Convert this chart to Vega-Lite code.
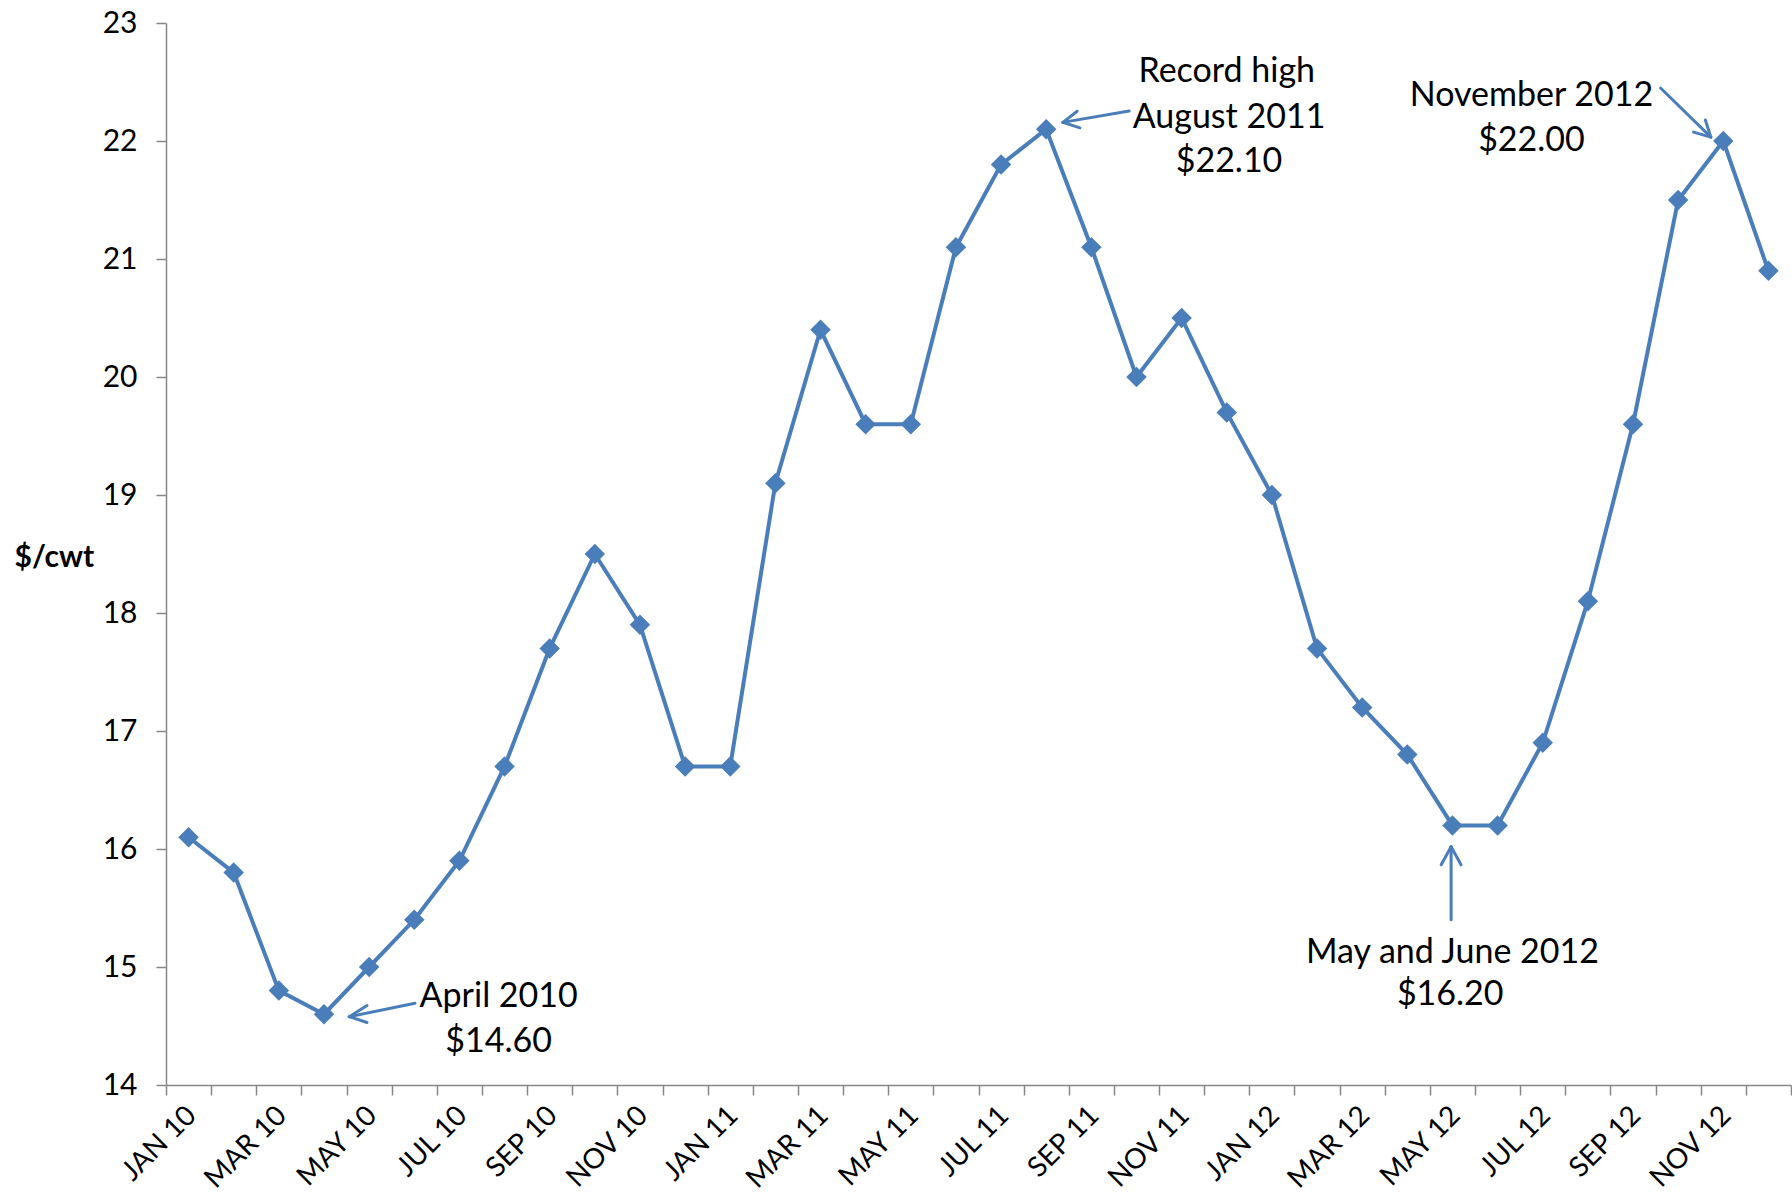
{
  "$schema": "https://vega.github.io/schema/vega-lite/v6.json",
  "width": 1625,
  "height": 1062,
  "autosize": {"type": "none"},
  "padding": {"left": 166, "top": 23, "right": 1, "bottom": 117},
  "background": "white",
  "config": {"view": {"stroke": null}, "font": "Lato"},
  "datasets": {
    "prices": [
      {"date": "2010-01-15", "price": 16.1},
      {"date": "2010-02-15", "price": 15.8},
      {"date": "2010-03-15", "price": 14.8},
      {"date": "2010-04-15", "price": 14.6},
      {"date": "2010-05-15", "price": 15.0},
      {"date": "2010-06-15", "price": 15.4},
      {"date": "2010-07-15", "price": 15.9},
      {"date": "2010-08-15", "price": 16.7},
      {"date": "2010-09-15", "price": 17.7},
      {"date": "2010-10-15", "price": 18.5},
      {"date": "2010-11-15", "price": 17.9},
      {"date": "2010-12-15", "price": 16.7},
      {"date": "2011-01-15", "price": 16.7},
      {"date": "2011-02-15", "price": 19.1},
      {"date": "2011-03-15", "price": 20.4},
      {"date": "2011-04-15", "price": 19.6},
      {"date": "2011-05-15", "price": 19.6},
      {"date": "2011-06-15", "price": 21.1},
      {"date": "2011-07-15", "price": 21.8},
      {"date": "2011-08-15", "price": 22.1},
      {"date": "2011-09-15", "price": 21.1},
      {"date": "2011-10-15", "price": 20.0},
      {"date": "2011-11-15", "price": 20.5},
      {"date": "2011-12-15", "price": 19.7},
      {"date": "2012-01-15", "price": 19.0},
      {"date": "2012-02-15", "price": 17.7},
      {"date": "2012-03-15", "price": 17.2},
      {"date": "2012-04-15", "price": 16.8},
      {"date": "2012-05-15", "price": 16.2},
      {"date": "2012-06-15", "price": 16.2},
      {"date": "2012-07-15", "price": 16.9},
      {"date": "2012-08-15", "price": 18.1},
      {"date": "2012-09-15", "price": 19.6},
      {"date": "2012-10-15", "price": 21.5},
      {"date": "2012-11-15", "price": 22.0},
      {"date": "2012-12-15", "price": 20.9}
    ],
    "arrows": [
      {"x": 5.016, "y": 14.692, "x2": 3.56, "y2": 14.579},
      {"x": 3.953, "y": 14.674, "x2": 3.56, "y2": 14.579},
      {"x": 3.953, "y": 14.53, "x2": 3.56, "y2": 14.579},
      {"x": 20.838, "y": 22.255, "x2": 19.369, "y2": 22.158},
      {"x": 19.748, "y": 22.111, "x2": 19.369, "y2": 22.158},
      {"x": 19.686, "y": 22.252, "x2": 19.369, "y2": 22.158},
      {"x": 32.61, "y": 22.449, "x2": 33.724, "y2": 22.033},
      {"x": 33.603, "y": 22.178, "x2": 33.724, "y2": 22.033},
      {"x": 33.341, "y": 22.075, "x2": 33.724, "y2": 22.033},
      {"x": 27.97, "y": 15.4, "x2": 27.97, "y2": 16.019},
      {"x": 27.75, "y": 15.867, "x2": 27.97, "y2": 16.019},
      {"x": 28.19, "y": 15.867, "x2": 27.97, "y2": 16.019}
    ],
    "notes": [
      {"label": "April 2010", "x": 6.87, "y": 14.746},
      {"label": "$14.60", "x": 6.87, "y": 14.364},
      {"label": "Record high", "x": 23.0, "y": 22.585},
      {"label": "August 2011", "x": 23.05, "y": 22.197},
      {"label": "$22.10", "x": 23.05, "y": 21.82},
      {"label": "November 2012", "x": 29.75, "y": 22.38},
      {"label": "$22.00", "x": 29.75, "y": 22.003},
      {"label": "May and June 2012", "x": 28.0, "y": 15.12},
      {"label": "$16.20", "x": 27.95, "y": 14.763}
    ]
  },
  "layer": [
    {
      "data": {"name": "prices"},
      "encoding": {
        "x": {
          "field": "date",
          "timeUnit": "yearmonth",
          "type": "ordinal",
          "scale": {"paddingInner": 0, "paddingOuter": 0},
          "axis": {
            "title": null,
            "labelExpr": "month(datum.value) % 2 == 0 ? upper(timeFormat(datum.value, '%b %y')) : ''",
            "labelAngle": -45,
            "labelAlign": "right",
            "labelBaseline": "middle",
            "labelFont": "Lato",
            "labelFontSize": 28,
            "labelColor": "black",
            "labelPadding": 16,
            "labelOffset": 3,
            "labelOverlap": false,
            "labelBound": false,
            "tickBand": "extent",
            "tickSize": 10,
            "tickColor": "#878787",
            "tickWidth": 1.5,
            "domainColor": "#878787",
            "domainWidth": 1.5,
            "grid": false
          }
        },
        "y": {
          "field": "price",
          "type": "quantitative",
          "scale": {"domain": [14, 23], "nice": false, "zero": false},
          "axis": {
            "title": "$/cwt",
            "titleAngle": 0,
            "titleAlign": "left",
            "titleBaseline": "middle",
            "titleX": -152,
            "titleY": 534,
            "titleFont": "Lato",
            "titleFontSize": 30,
            "titleFontWeight": "bold",
            "titleColor": "black",
            "values": [14, 15, 16, 17, 18, 19, 20, 21, 22, 23],
            "format": "d",
            "labelFont": "Lato",
            "labelFontSize": 30,
            "labelColor": "black",
            "labelPadding": 19,
            "tickSize": 10,
            "tickColor": "#878787",
            "tickWidth": 1.5,
            "domainColor": "#878787",
            "domainWidth": 1.5,
            "grid": false
          }
        }
      },
      "layer": [
        {"mark": {"type": "line", "color": "#4A7EBB", "strokeWidth": 4}},
        {"mark": {"type": "point", "shape": "diamond", "filled": true, "size": 420, "color": "#4A7EBB", "opacity": 1}}
      ]
    },
    {
      "data": {"name": "arrows"},
      "mark": {"type": "rule", "color": "#4A7EBB", "strokeWidth": 3, "strokeCap": "round"},
      "encoding": {
        "x": {"field": "x", "type": "quantitative", "scale": {"domain": [-0.5, 35.5], "nice": false, "zero": false}, "axis": null},
        "x2": {"field": "x2"},
        "y": {"field": "y", "type": "quantitative"},
        "y2": {"field": "y2"}
      }
    },
    {
      "data": {"name": "notes"},
      "mark": {"type": "text", "font": "Lato", "fontSize": 34, "color": "black", "align": "center", "baseline": "middle"},
      "encoding": {
        "x": {"field": "x", "type": "quantitative", "scale": {"domain": [-0.5, 35.5], "nice": false, "zero": false}, "axis": null},
        "y": {"field": "y", "type": "quantitative"},
        "text": {"field": "label"}
      }
    }
  ],
  "resolve": {"scale": {"x": "independent"}}
}
